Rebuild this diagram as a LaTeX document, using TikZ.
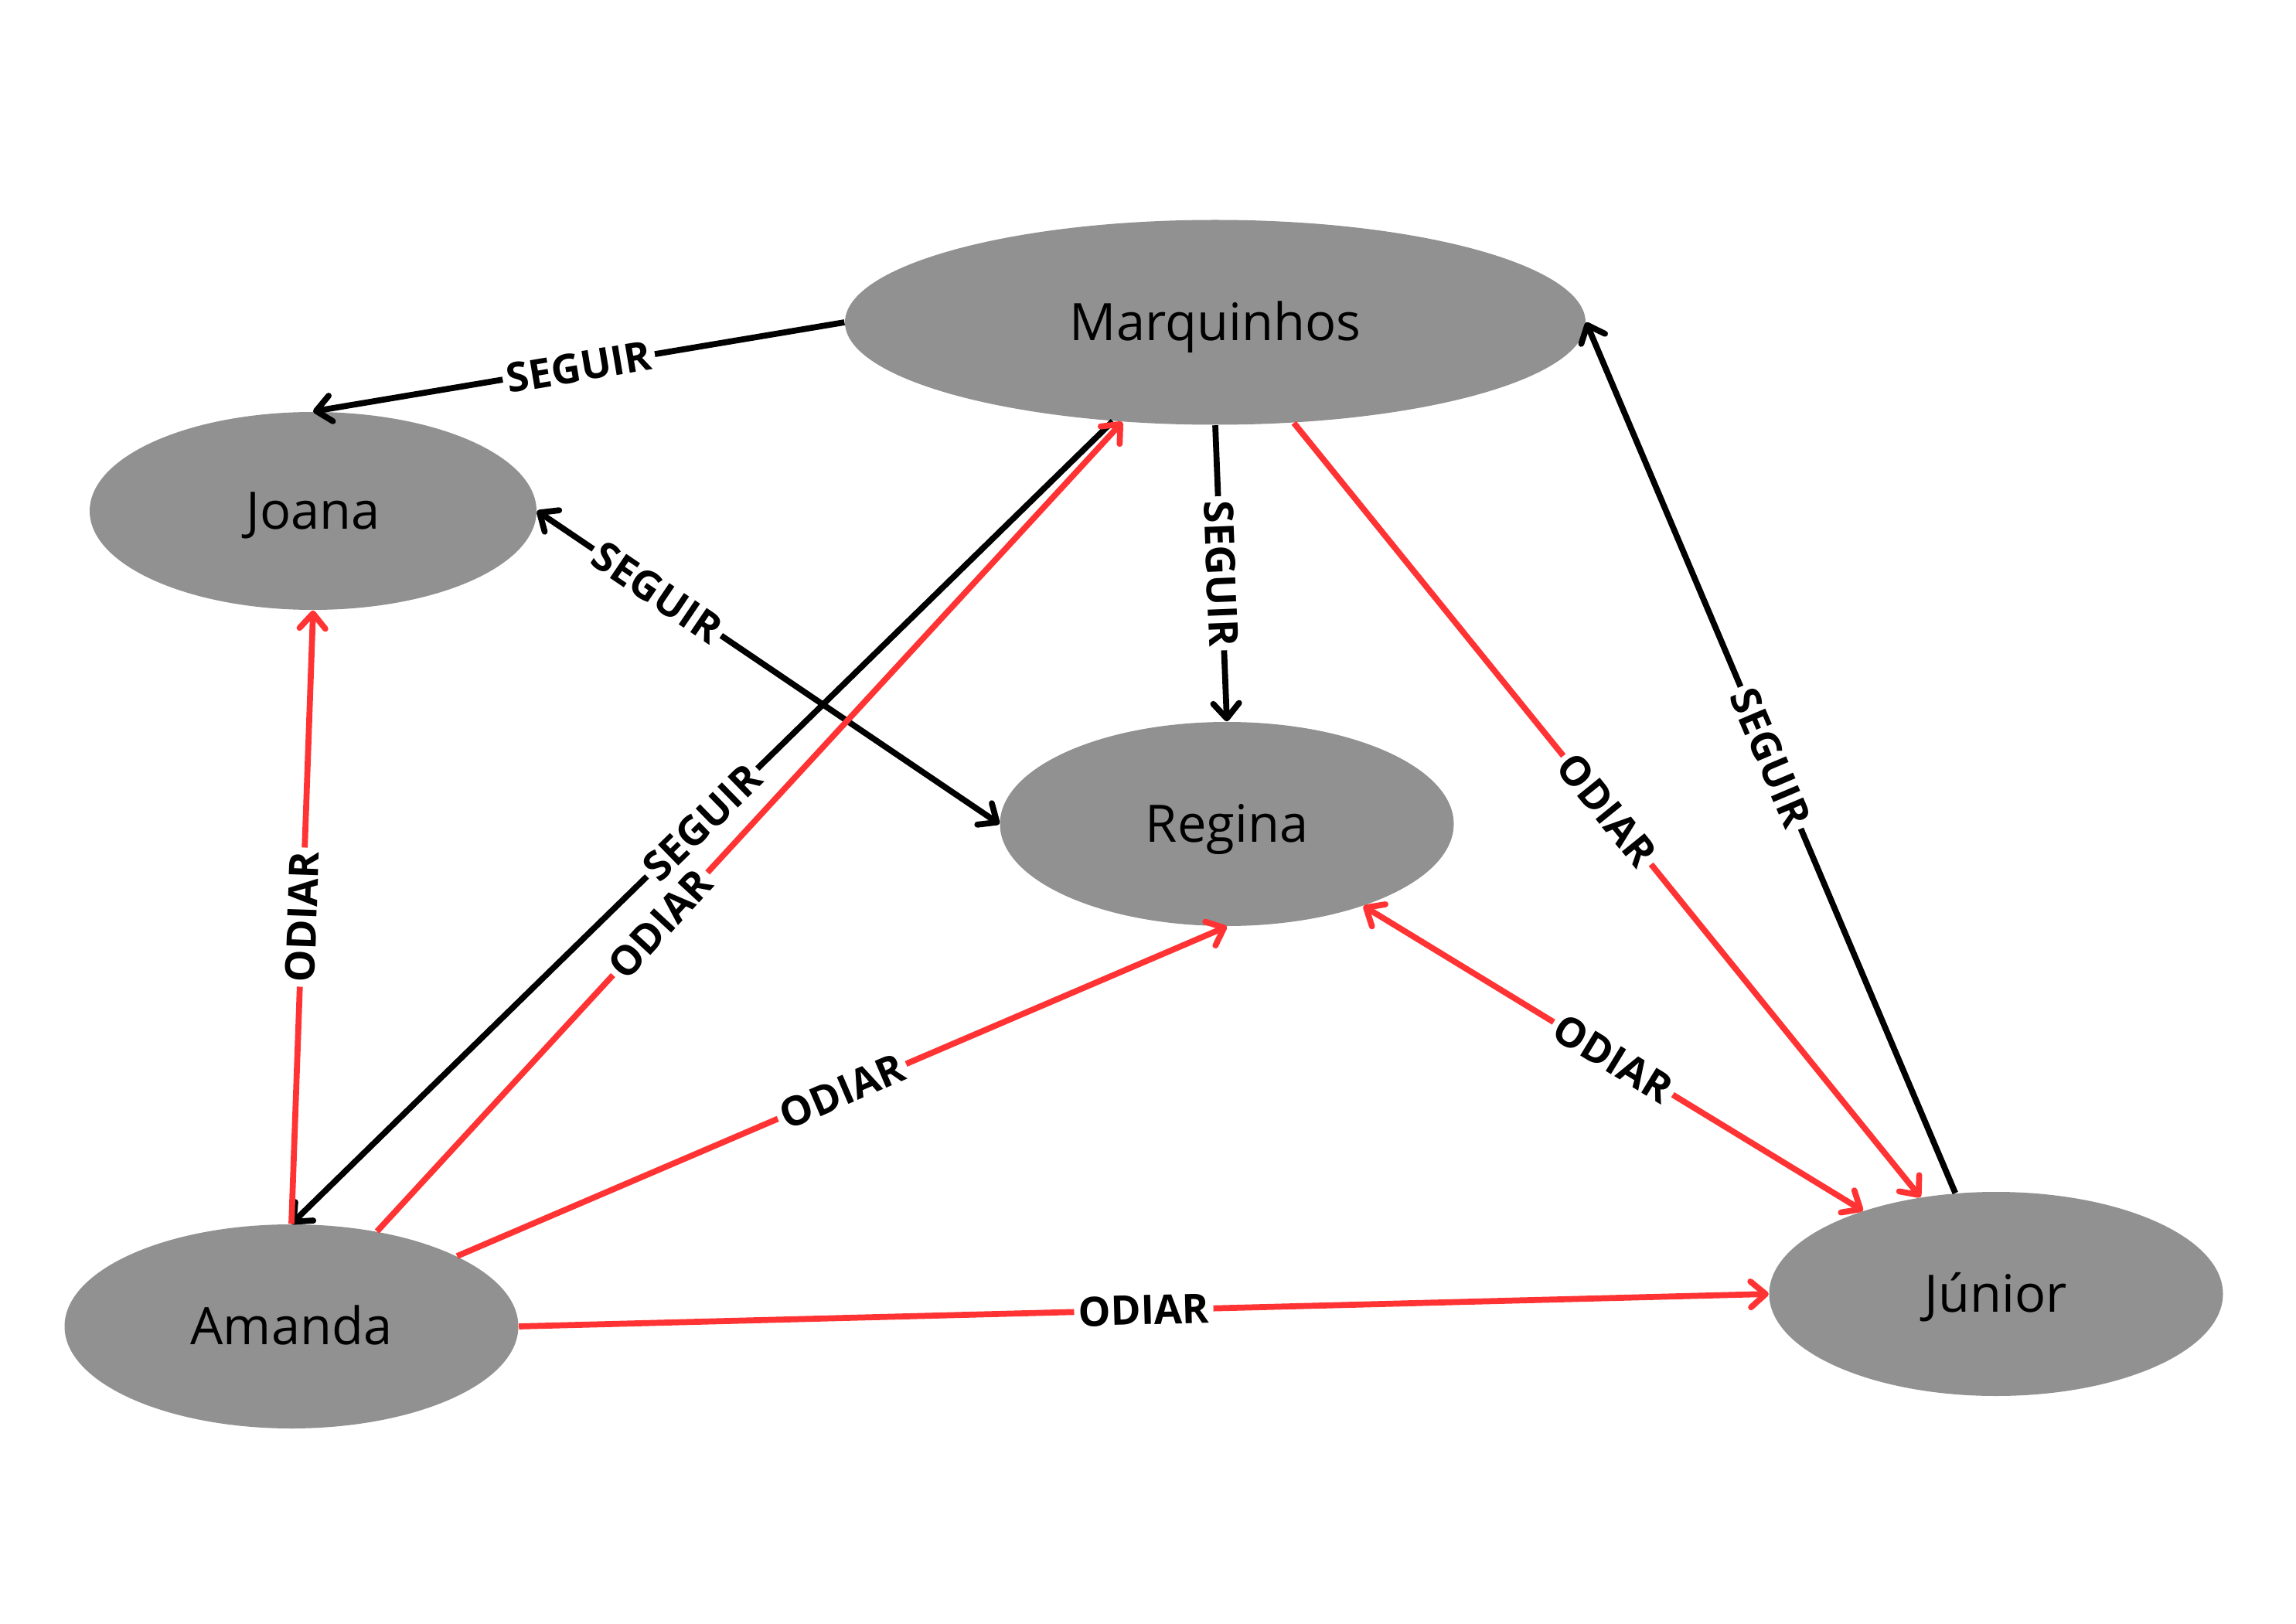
\documentclass[tikz,border=0pt]{standalone}
\usepackage{fontspec}
\setsansfont{Open Sans}
\usetikzlibrary{arrows.meta,shapes.geometric}
\definecolor{nodegray}{HTML}{919191}
\definecolor{odiored}{HTML}{FF3333}

\begin{document}
\begin{tikzpicture}[font=\sffamily, >={Straight Barb[length=5.5pt,width=9.5pt,round]},
  pessoa/.style={ellipse,fill=nodegray,minimum width=5.87cm,minimum height=2.64cm,inner sep=0pt,
    text height=13.6pt,text depth=0pt,font=\sffamily\fontsize{19}{23}\selectfont},
  seguir/.style={->,line width=2.2pt,black},
  odiar/.style={->,line width=2.2pt,odiored},
  rel/.style={sloped,fill=white,inner sep=1.5pt,text=black,font=\sffamily\bfseries\fontsize{15}{18}\selectfont}]
  \useasboundingbox (0,0) rectangle (29.7,21);

  \node[pessoa,minimum width=9.58cm,minimum height=2.65cm] (marq) at (15.72,16.83) {Marquinhos};
  \node[pessoa,minimum width=5.78cm,minimum height=2.56cm] (joana) at (4.05,14.39) {Joana};
  \node[pessoa] (regina) at (15.87,10.34) {Regina};
  \node[pessoa] (amanda) at (3.77,3.84) {Amanda};
  \node[pessoa] (junior) at (25.82,4.26) {Júnior};

  % seguir
  \draw[seguir] (marq.west) -- (joana.north) node[rel,midway]{SEGUIR};
  \draw[seguir,<->] (joana.east) -- (regina.west) node[rel,pos=.26]{SEGUIR};
  \draw[seguir] (marq.south) -- (regina.north) node[rel,midway]{SEGUIR};
  \draw[seguir] (marq.224) -- (amanda.north) node[rel,midway]{SEGUIR};
  \draw[seguir] (junior.112) -- (marq.east) node[rel,midway]{SEGUIR};

  % odiar
  \draw[odiar] (amanda.48) -- (marq.227) node[rel,pos=.38]{ODIAR};
  \draw[odiar] (amanda.north) -- (joana.south) node[rel,midway]{ODIAR};
  \draw[odiar] (amanda.23) -- (regina.south) node[rel,midway]{ODIAR};
  \draw[odiar] (amanda.east) -- (junior.west) node[rel,midway]{ODIAR};
  \draw[odiar] (marq.308) -- (junior.128) node[rel,midway]{ODIAR};
  \draw[odiar,<->] (regina.329) -- (junior.148) node[rel,midway]{ODIAR};
\end{tikzpicture}
\end{document}
